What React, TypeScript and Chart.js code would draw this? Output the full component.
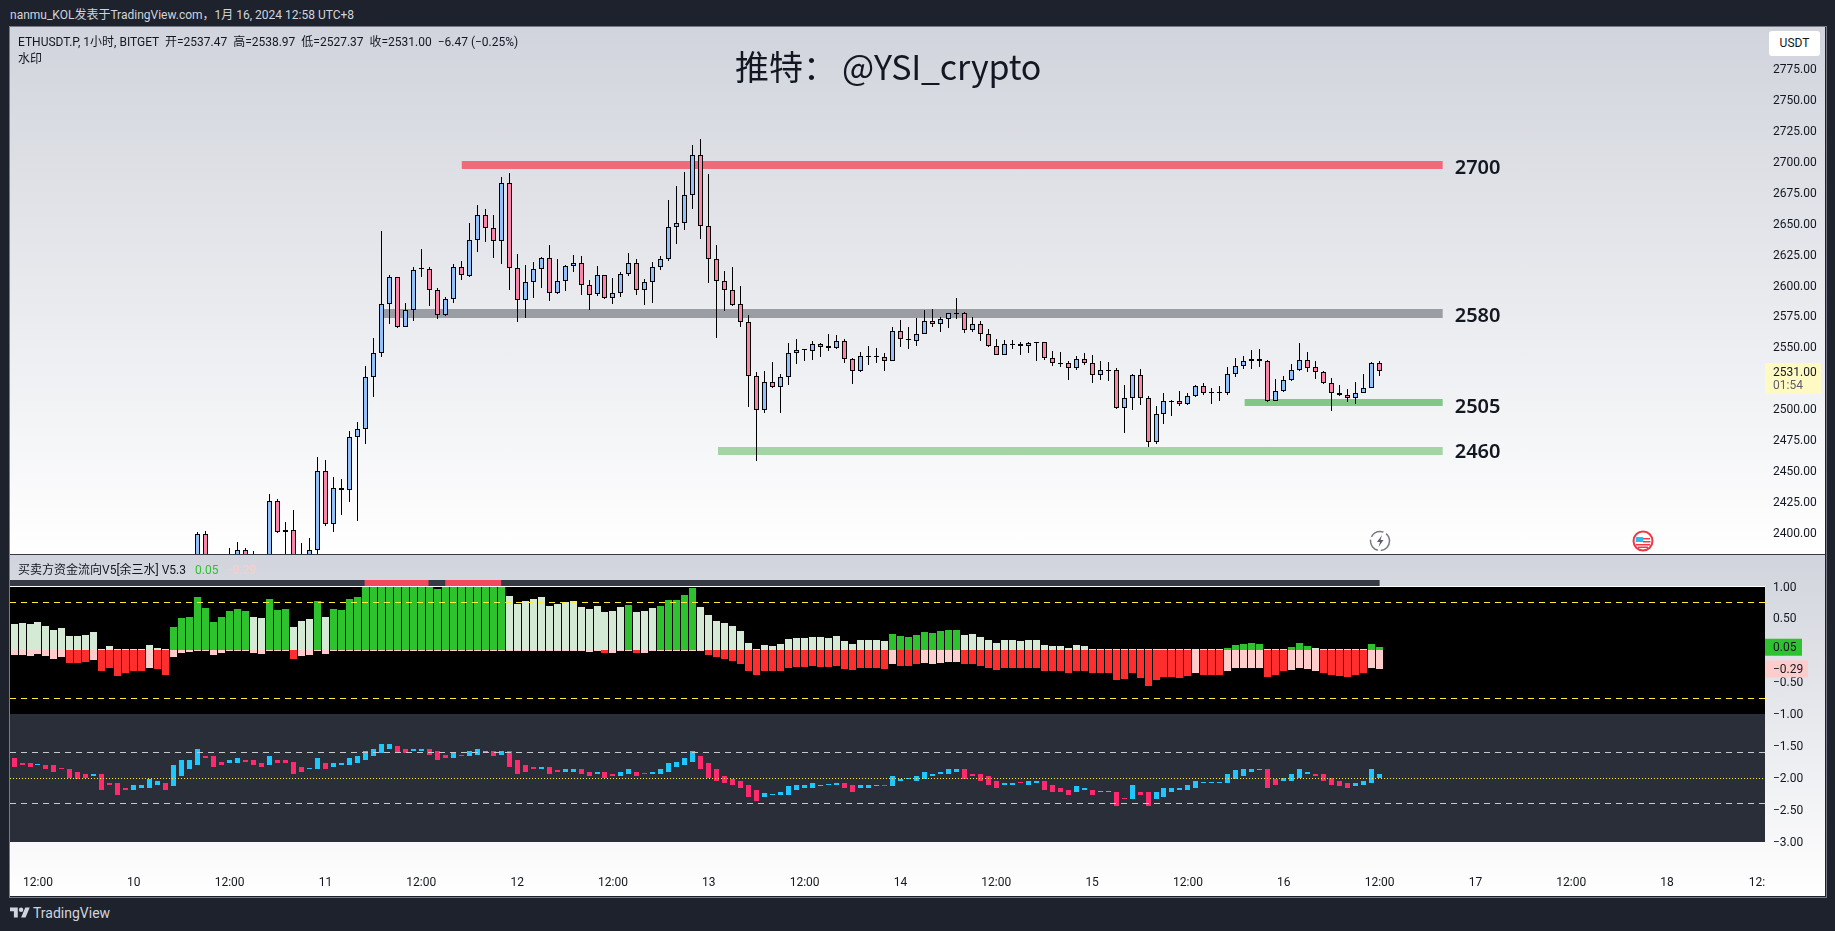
import { useEffect, useRef } from "react";
import { Chart, registerables } from "chart.js";

Chart.register(...registerables);

// Hours since 9 Jan 12:00 (one bar per hour, last bar is 16 Jan 12:00)
const X_MIN = -3.506;
const X_MAX = 216.26;
const LAST_HOUR = 168;

const timeTicks = [0, 12, 24, 36, 48, 60, 72, 84, 96, 108, 120, 132, 144, 156, 168, 180, 192, 204, 215.25];
const timeLabels = ["12:00", "10", "12:00", "11", "12:00", "12", "12:00", "13", "12:00", "14", "12:00", "15", "12:00", "16", "12:00", "17", "12:00", "18", "12:"];

const priceTicks = [2400, 2425, 2450, 2475, 2500, 2525, 2550, 2575, 2600, 2625, 2650, 2675, 2700, 2725, 2750, 2775];
const flowTicks = [1, 0.5, -0.5, -1, -1.5, -2, -2.5, -3];

// Candles start at hour 20, everything earlier is under the visible price range
const CANDLE_START = 20;
const candleOpen = [
  2375, 2399.2, 2378, 2372, 2375, 2379, 2386.3, 2378, 2376, 2380, 2425.8, 2400.8, 2402.4, 2380, 2378, 2386.3,
  2450, 2407.3, 2436.3, 2434.7, 2477.5, 2483.9, 2526.4, 2545.8, 2584.8, 2606.6, 2566.8, 2580, 2613, 2613.1,
  2596.1, 2576.5, 2588.8, 2614.7, 2607.4, 2636.5, 2656.7, 2646.2, 2635.7, 2682.5, 2614, 2588, 2602.6, 2613.1,
  2622, 2593.7, 2603.4, 2615.5, 2618, 2600.2, 2592.8, 2608.2, 2589.6, 2593.7, 2609, 2617.9, 2596.1, 2602.6,
  2614.7, 2621.1, 2647, 2650.2, 2672.8, 2705, 2647.8, 2621.1, 2603.4, 2596.1, 2584.8, 2570.3, 2526.7, 2499.3,
  2521.9, 2517.8, 2525.9, 2545.3, 2547.7, 2547, 2552.5, 2550.9, 2549.3, 2555, 2540.4, 2530.7, 2542.8, 2542.2,
  2542, 2539.3, 2563, 2556.6, 2555.5, 2560.6, 2571.1, 2568.7, 2572.7, 2577.5, 2577.5, 2563.8, 2568.7, 2560.6,
  2550.9, 2543.7, 2552.5, 2552.5, 2550.9, 2554.1, 2554.1, 2541.2, 2537.2, 2537.2, 2533.2, 2540.4, 2537.2, 2527.5,
  2531.5, 2531.5, 2500.9, 2509, 2527.5, 2509, 2473.4, 2496, 2506.5, 2506.5, 2504.1, 2510.6, 2518.6, 2513.8,
  2513.8, 2513, 2528.3, 2534.8, 2538.8, 2540.4, 2538.8, 2507, 2514.6, 2523.5, 2531.5, 2539.6, 2534, 2530,
  2521, 2513, 2511.4, 2509, 2513, 2517, 2537.47,
];
const candleClose = [
  2399.2, 2378, 2372, 2375, 2379, 2386.3, 2378, 2376, 2380, 2425.8, 2400.8, 2402.4, 2380, 2378, 2386.3, 2450,
  2407.3, 2436.3, 2434.7, 2477.5, 2483.9, 2526.4, 2545.8, 2584.8, 2606.6, 2566.8, 2580, 2612.3, 2613.3, 2596.1,
  2576.5, 2588.8, 2614.7, 2608.2, 2636.5, 2656.7, 2646.2, 2635.7, 2682.5, 2614, 2588, 2602.6, 2613.1, 2622,
  2593.7, 2603.4, 2615.5, 2618, 2600.2, 2592.7, 2608.2, 2589.6, 2593.7, 2609, 2617.9, 2596.1, 2602.6, 2614.7,
  2621.1, 2647, 2650.2, 2672.8, 2705, 2647.8, 2621.1, 2603.4, 2596.1, 2584.5, 2570.3, 2526.7, 2499.3, 2521.9,
  2517.8, 2525.9, 2545.3, 2547.7, 2548, 2552.5, 2550.6, 2549.3, 2555, 2540.4, 2530.7, 2542.8, 2542.5, 2542,
  2539.3, 2563, 2556.6, 2556.4, 2560.6, 2571.1, 2568.7, 2572.7, 2577.5, 2577.3, 2563.8, 2568.7, 2560.6, 2550.9,
  2543.7, 2552.5, 2552.3, 2550.9, 2553.3, 2553.9, 2541.2, 2537.2, 2537, 2533.2, 2540.4, 2537.2, 2527.5, 2531.5,
  2531.3, 2500.9, 2509, 2527.5, 2509, 2473.4, 2496, 2506.5, 2506.3, 2504.1, 2510.6, 2518.6, 2513, 2513.6,
  2513.6, 2528.3, 2534.8, 2539, 2540.4, 2538.8, 2507, 2514.6, 2523.5, 2531.5, 2539.6, 2533.7, 2530, 2521,
  2513, 2511.4, 2509, 2513, 2517, 2537.2, 2531,
];
const candleHigh = [
  2401.1, 2401.9, 2382, 2381, 2387.9, 2393, 2387.9, 2385.7, 2383, 2431.7, 2427.4, 2409.1, 2418.8, 2392.2, 2396.2, 2461.6,
  2459.2, 2445.4, 2443.8, 2482.3, 2489.6, 2534.8, 2557.4, 2644.3, 2608.2, 2606.6, 2585.9, 2614.7, 2629.5, 2614.7,
  2597.7, 2590.4, 2617.1, 2619.6, 2650.5, 2665, 2661.8, 2656.9, 2687.6, 2690.8, 2625.5, 2616.6, 2619, 2623.1,
  2632.7, 2621.2, 2616.3, 2624.7, 2623.6, 2604.5, 2615.8, 2608.5, 2605.8, 2610.6, 2626.2, 2621.1, 2605, 2618.7,
  2623.8, 2669, 2680.3, 2691.6, 2713.4, 2718.2, 2690, 2632.4, 2611.7, 2615, 2599.6, 2576, 2530, 2530.7,
  2538, 2528.3, 2553.3, 2556.6, 2548.8, 2555, 2553.3, 2560.9, 2559.8, 2556.6, 2541.2, 2546.1, 2551.2, 2549.3,
  2545.3, 2566.5, 2571.9, 2566.5, 2573.8, 2580, 2581, 2574.3, 2577.5, 2589.9, 2578.4, 2574.3, 2571.1, 2564.6,
  2556.6, 2555.8, 2555.8, 2554.1, 2554.1, 2554.1, 2554.1, 2546.9, 2546.1, 2538.8, 2542.8, 2545.3, 2543.9, 2538.8,
  2538, 2533.2, 2519.4, 2528.3, 2532.6, 2510.8, 2502.8, 2513.3, 2507.3, 2514.6, 2513, 2519.4, 2521, 2517,
  2518.6, 2534, 2541.2, 2543.1, 2548, 2548.5, 2539.6, 2524.5, 2527, 2536.4, 2553.6, 2546.1, 2538.8, 2531,
  2525, 2519.4, 2516.2, 2521.9, 2528.6, 2538, 2538.97,
];
const candleLow = [
  2370, 2370, 2368, 2365, 2370, 2375, 2373, 2370, 2372, 2378, 2400.5, 2383, 2375, 2372, 2376, 2383,
  2406.2, 2401.3, 2415, 2425.5, 2410.2, 2472.4, 2510.3, 2542.6, 2568.9, 2565.4, 2566.2, 2571.6, 2607, 2583.7,
  2573.2, 2575.6, 2586.1, 2604.5, 2606.6, 2627.4, 2635.4, 2622.5, 2617.1, 2596.4, 2570.8, 2574, 2590.2, 2598.2,
  2587.8, 2592.9, 2595.8, 2610.7, 2592.4, 2580.5, 2591.2, 2588.8, 2585.3, 2591, 2608, 2592.6, 2584.3, 2586.2,
  2612.2, 2619.5, 2633.8, 2644.8, 2662, 2637.8, 2602.3, 2557.9, 2579.7, 2583.7, 2566.8, 2502.2, 2458.6, 2497.4,
  2517, 2497.4, 2519.7, 2536.7, 2538.8, 2539.9, 2542.3, 2547, 2548.8, 2537.7, 2520.5, 2530, 2535.9, 2537.7,
  2531, 2539.3, 2550.4, 2548.8, 2551.5, 2560.6, 2566.8, 2562.8, 2565.4, 2573, 2561.4, 2562.8, 2555.5, 2550.4,
  2543.7, 2543.7, 2548.5, 2544, 2545.8, 2539.3, 2539.6, 2534.8, 2534.2, 2523.7, 2531.5, 2535.6, 2521.6, 2523.5,
  2522.7, 2500.1, 2480.7, 2499.3, 2503.3, 2470, 2471.8, 2488.5, 2495, 2503, 2503.3, 2510.3, 2511.4, 2504.6,
  2507, 2511.4, 2525.9, 2532.3, 2532.9, 2534.2, 2505.7, 2507, 2514.3, 2523.2, 2531.3, 2530.2, 2524.3, 2520.8,
  2499, 2510.8, 2506.3, 2504.4, 2513, 2517, 2527.37,
];

// Support / resistance bands
const bandPrices = [2697.2, 2577.5, 2505.6, 2466.5];
const bandLabels = ["2700", "2580", "2505", "2460"];
const bandLabelPrices = [2696.5, 2577, 2503.7, 2467.2];
const bandStartHours = [53.07, 43.3, 151.1, 85.15];
const BAND_END_HOUR = 175.9;
const bandColors = ["#ef6a7a", "#9b9da5", "#82c785", "#a3d4a3"];
const bandThickness = [8, 9, 7, 8];

const LAST_PRICE = 2531;
const LAST_PRICE_LABEL = "2531.00";
const COUNTDOWN_LABEL = "01:54";

// Indicator: histogram starts at hour -3
const FLOW_START = -3;
const buyFlow = [
  0.42, 0.43, 0.42, 0.45, 0.39, 0.32, 0.35, 0.23, 0.23, 0.24, 0.29, 0, 0.07, 0, 0, 0, 0, 0.09, 0.04, 0,
  0.37, 0.51, 0.53, 0.84, 0.67, 0.45, 0.53, 0.62, 0.65, 0.62, 0.53, 0.51, 0.81, 0.64, 0.65, 0.37, 0.46, 0.49, 0.78, 0.53,
  0.65, 0.64, 0.81, 0.84, 1, 1, 1, 1, 1, 1, 1, 1, 1, 0.96, 1, 1, 1, 1, 1, 1,
  1, 1, 0.85, 0.73, 0.78, 0.81, 0.84, 0.7, 0.73, 0.76, 0.78, 0.68, 0.65, 0.7, 0.6, 0.62, 0.68, 0.71, 0.6, 0.62,
  0.67, 0.7, 0.79, 0.79, 0.87, 0.98, 0.68, 0.56, 0.46, 0.43, 0.39, 0.31, 0.12, 0, 0.09, 0.07, 0.1, 0.18, 0.2, 0.2,
  0.21, 0.21, 0.2, 0.23, 0.15, 0.1, 0.17, 0.17, 0.17, 0.15, 0.26, 0.23, 0.21, 0.24, 0.29, 0.28, 0.31, 0.32, 0.32, 0.24,
  0.26, 0.21, 0.17, 0.12, 0.17, 0.17, 0.15, 0.17, 0.17, 0.09, 0.07, 0.07, 0.04, 0.09, 0.07, 0, 0.03, 0.03, 0, 0,
  0, 0, 0, 0, 0, 0, 0, 0, 0, 0, 0, 0, 0.04, 0.09, 0.1, 0.12, 0.1, 0, 0, 0,
  0.06, 0.12, 0.07, 0.04, 0, 0, 0, 0, 0, 0, 0.1, 0.05,
];
const buyStrong = [
  0, 0, 0, 0, 0, 0, 0, 0, 0, 0, 0, 0, 0, 0, 0, 0, 0, 0, 0, 0,
  1, 1, 1, 1, 1, 1, 1, 1, 1, 1, 0, 0, 1, 1, 1, 0, 0, 0, 1, 0,
  1, 1, 1, 1, 1, 1, 1, 1, 1, 1, 1, 1, 1, 1, 1, 1, 1, 1, 1, 1,
  1, 1, 0, 0, 0, 0, 0, 0, 0, 0, 0, 0, 0, 0, 0, 0, 0, 1, 0, 0,
  0, 1, 1, 1, 1, 1, 0, 0, 0, 0, 0, 0, 0, 0, 0, 0, 0, 0, 0, 0,
  0, 0, 0, 0, 0, 0, 0, 0, 0, 0, 1, 1, 1, 1, 1, 1, 1, 1, 1, 0,
  0, 0, 0, 0, 0, 0, 0, 0, 0, 0, 0, 0, 0, 0, 0, 0, 0, 0, 0, 0,
  0, 0, 0, 0, 0, 0, 0, 0, 0, 0, 0, 0, 1, 1, 1, 1, 1, 0, 0, 0,
  1, 1, 1, 0, 0, 0, 0, 0, 0, 0, 1, 1,
];
const sellFlow = [
  -0.07, -0.07, -0.08, -0.05, -0.08, -0.13, -0.11, -0.19, -0.19, -0.18, -0.15, -0.33, -0.27, -0.40, -0.35, -0.32, -0.32, -0.27, -0.29, -0.38,
  -0.11, -0.04, -0.02, -0.01, -0.01, -0.07, -0.04, -0.01, -0.01, -0.01, -0.04, -0.05, -0.01, -0.01, -0.01, -0.13, -0.08, -0.07, -0.01, -0.05,
  -0.01, -0.01, -0.01, -0.01, -0.01, -0.01, -0.01, -0.01, -0.01, -0.01, -0.01, -0.01, -0.01, -0.01, -0.01, -0.01, -0.01, -0.01, -0.01, -0.01,
  -0.01, -0.01, -0.01, -0.01, -0.01, -0.01, -0.01, -0.01, -0.01, -0.01, -0.01, -0.01, -0.02, -0.01, -0.04, -0.04, -0.01, -0.01, -0.04, -0.04,
  -0.01, -0.01, -0.01, -0.01, -0.01, -0.01, -0.01, -0.07, -0.11, -0.13, -0.16, -0.21, -0.32, -0.38, -0.32, -0.33, -0.32, -0.27, -0.26, -0.26,
  -0.24, -0.26, -0.26, -0.24, -0.29, -0.30, -0.27, -0.27, -0.27, -0.29, -0.22, -0.24, -0.24, -0.22, -0.19, -0.21, -0.19, -0.18, -0.18, -0.22,
  -0.21, -0.24, -0.27, -0.30, -0.27, -0.27, -0.27, -0.27, -0.27, -0.32, -0.33, -0.33, -0.35, -0.32, -0.33, -0.36, -0.35, -0.35, -0.47, -0.44,
  -0.35, -0.43, -0.55, -0.46, -0.41, -0.41, -0.43, -0.40, -0.36, -0.38, -0.38, -0.38, -0.32, -0.27, -0.27, -0.27, -0.27, -0.41, -0.38, -0.33,
  -0.30, -0.27, -0.29, -0.32, -0.35, -0.38, -0.40, -0.41, -0.38, -0.36, -0.27, -0.29,
];
const sellStrong = [
  0, 0, 0, 0, 0, 0, 0, 1, 1, 1, 0, 1, 1, 1, 1, 1, 1, 0, 1, 1,
  0, 0, 0, 0, 0, 0, 0, 0, 0, 0, 0, 0, 0, 0, 0, 1, 0, 0, 0, 0,
  0, 0, 0, 0, 0, 0, 0, 0, 0, 0, 0, 0, 0, 0, 0, 0, 0, 0, 0, 0,
  0, 0, 0, 0, 0, 0, 0, 0, 0, 0, 0, 0, 0, 0, 1, 0, 0, 0, 1, 0,
  0, 0, 0, 0, 0, 0, 0, 1, 1, 1, 1, 1, 1, 1, 1, 1, 1, 1, 1, 1,
  1, 1, 1, 1, 1, 1, 1, 1, 1, 1, 0, 1, 1, 1, 0, 0, 0, 0, 0, 1,
  1, 1, 1, 1, 1, 1, 1, 1, 1, 1, 1, 1, 1, 1, 1, 1, 1, 1, 1, 1,
  1, 1, 1, 1, 1, 1, 1, 1, 0, 1, 1, 1, 0, 0, 0, 0, 0, 1, 1, 1,
  0, 0, 0, 0, 1, 1, 1, 1, 1, 1, 0, 0,
];

// Lower candles of the indicator
const flowOpen = [
  -1.69, -1.76, -1.77, -1.80, -1.79, -1.80, -1.85, -1.85, -1.91, -1.94, -1.97, -1.94, -2.07, -2.07, -2.16, -2.18, -2.15, -2.15, -2.10, -2.07,
  -2.13, -1.97, -1.85, -1.79, -1.66, -1.66, -1.74, -1.77, -1.76, -1.72, -1.72, -1.76, -1.80, -1.71, -1.72, -1.74, -1.83, -1.86, -1.86, -1.77,
  -1.82, -1.79, -1.80, -1.76, -1.72, -1.66, -1.61, -1.55, -1.49, -1.55, -1.58, -1.58, -1.55, -1.58, -1.63, -1.68, -1.63, -1.66, -1.63, -1.60,
  -1.58, -1.63, -1.58, -1.71, -1.80, -1.83, -1.86, -1.83, -1.88, -1.90, -1.90, -1.86, -1.90, -1.94, -1.91, -1.94, -1.96, -1.94, -1.90, -1.93,
  -1.94, -1.93, -1.90, -1.83, -1.80, -1.74, -1.66, -1.76, -1.86, -1.96, -2.01, -2.05, -2.10, -2.19, -2.29, -2.27, -2.27, -2.26, -2.19, -2.16,
  -2.15, -2.13, -2.11, -2.11, -2.08, -2.11, -2.16, -2.15, -2.13, -2.11, -2.13, -2.05, -2.02, -2.04, -2.01, -1.96, -1.94, -1.93, -1.90, -1.86,
  -1.93, -1.94, -1.97, -2.04, -2.11, -2.10, -2.07, -2.10, -2.08, -2.05, -2.11, -2.16, -2.18, -2.22, -2.18, -2.18, -2.22, -2.22, -2.21, -2.32,
  -2.33, -2.22, -2.22, -2.33, -2.29, -2.22, -2.19, -2.18, -2.15, -2.08, -2.08, -2.08, -2.08, -2.02, -1.96, -1.91, -1.88, -1.86, -2.01, -2.05,
  -2.04, -1.99, -1.93, -1.93, -1.94, -1.99, -2.05, -2.08, -2.13, -2.11, -2.08, -1.99,
];
const flowClose = [
  -1.82, -1.80, -1.82, -1.79, -1.85, -1.91, -1.86, -1.99, -2.01, -1.99, -1.93, -2.19, -2.10, -2.26, -2.18, -2.11, -2.11, -2.02, -2.05, -2.19,
  -1.80, -1.71, -1.71, -1.55, -1.68, -1.82, -1.79, -1.72, -1.69, -1.74, -1.80, -1.83, -1.65, -1.76, -1.77, -1.94, -1.90, -1.85, -1.69, -1.85,
  -1.77, -1.77, -1.69, -1.66, -1.58, -1.55, -1.47, -1.46, -1.61, -1.61, -1.55, -1.54, -1.63, -1.71, -1.69, -1.61, -1.65, -1.58, -1.55, -1.58,
  -1.66, -1.57, -1.83, -1.93, -1.90, -1.85, -1.82, -1.93, -1.91, -1.86, -1.85, -1.94, -1.97, -1.90, -1.99, -1.97, -1.90, -1.86, -1.97, -1.94,
  -1.90, -1.86, -1.76, -1.74, -1.68, -1.58, -1.86, -1.99, -2.05, -2.08, -2.11, -2.16, -2.30, -2.36, -2.24, -2.26, -2.22, -2.13, -2.11, -2.11,
  -2.08, -2.10, -2.10, -2.07, -2.16, -2.21, -2.11, -2.11, -2.11, -2.13, -1.96, -2.01, -2.01, -1.97, -1.90, -1.93, -1.90, -1.86, -1.85, -2.01,
  -1.96, -2.04, -2.11, -2.16, -2.07, -2.07, -2.08, -2.05, -2.05, -2.18, -2.22, -2.22, -2.26, -2.13, -2.16, -2.27, -2.21, -2.21, -2.44, -2.33,
  -2.11, -2.26, -2.43, -2.22, -2.15, -2.15, -2.16, -2.10, -2.04, -2.07, -2.07, -2.07, -1.94, -1.88, -1.86, -1.85, -1.86, -2.15, -2.10, -1.99,
  -1.93, -1.86, -1.91, -1.97, -2.05, -2.11, -2.13, -2.16, -2.08, -2.05, -1.86, -1.93,
];

// Guide lines of the indicator
const outerGuides = [0.75, -0.75];
const innerGuides = [-1.6, -2.4];
const MID_GUIDE = -2;

// The strip over the indicator, red where the histogram is pinned at the top
const STRIP_LEVEL = 1.06;
const stripRedStarts = [40.9, 51];
const stripRedEnds = [48.9, 58];

const BUY_VALUE = 0.05;
const SELL_VALUE = -0.29;

const TICK_FONT = { family: "Roboto, 'Noto Sans CJK SC'", size: 12 };
const TICK_FONT_CSS = "12px Roboto, 'Noto Sans CJK SC'";
const TEXT_COLOR = "#131722";

const hoursFrom = (start: number, length: number) => Array.from({ length }, (_, i) => start + i);
const minus = (value: number) => value.toFixed(2).replace("-", "\u2212");

// Puts bars and lines on whole pixels, otherwise the 1px marks turn grey
const snapMarks = {
  id: "snapMarks",
  afterDatasetsUpdate(chart: any) {
    chart.getSortedVisibleDatasetMetas().forEach((meta: any) => {
      if (meta.type === "bar") {
        meta.data.forEach((bar: any) => {
          bar.x = Math.floor(bar.x) + 0.5;
          bar.y = Math.round(bar.y);
          bar.base = Math.round(bar.base);
          if (bar.base === bar.y) bar.y -= 1;
        });
      } else {
        const odd = meta.dataset.options.borderWidth % 2 === 1;
        meta.data.forEach((point: any) => {
          point.y = odd ? Math.floor(point.y) + 0.5 : Math.round(point.y);
        });
      }
    });
  },
};

const xAxis = (showLabels: boolean) => ({
  type: "linear",
  min: X_MIN,
  max: X_MAX,
  offset: false,
  display: showLabels,
  grid: { display: false, drawTicks: false },
  border: { display: false },
  afterBuildTicks: (axis: any) => {
    axis.ticks = timeTicks.map((value) => ({ value }));
  },
  afterFit: (axis: any) => {
    axis.height = showLabels ? 54 : 0;
    axis.paddingLeft = 0;
    axis.paddingRight = 0;
  },
  ticks: {
    autoSkip: false,
    maxRotation: 0,
    padding: 34,
    color: TEXT_COLOR,
    font: TICK_FONT,
    callback: (_: any, index: number) => timeLabels[index],
  },
});

const yAxis = (min: number, max: number, values: number[]) => ({
  position: "right",
  min,
  max,
  grid: { display: false, drawTicks: false },
  border: { display: false },
  afterBuildTicks: (axis: any) => {
    axis.ticks = values.map((value) => ({ value }));
  },
  afterFit: (axis: any) => {
    axis.width = 60;
    axis.paddingTop = 0;
    axis.paddingBottom = 0;
  },
  ticks: {
    autoSkip: false,
    crossAlign: "near",
    padding: 8,
    labelOffset: 1,
    color: TEXT_COLOR,
    font: TICK_FONT,
    callback: (value: number) => minus(value),
  },
});

// Price candles with the four hand drawn bands
const PriceChart = () => {
  const chartRef = useRef<HTMLCanvasElement>(null);

  useEffect(() => {
    if (!chartRef.current) return;
    const hours = hoursFrom(CANDLE_START, candleOpen.length);

    const priceLabels = {
      id: "priceLabels",
      afterDraw(chart: any) {
        const { ctx, scales } = chart;
        ctx.save();
        // band captions
        ctx.font = "600 20px 'Noto Sans'";
        ctx.fillStyle = "#131722";
        ctx.textBaseline = "middle";
        bandLabels.forEach((label, i) => {
          ctx.fillText(label, scales.x.getPixelForValue(BAND_END_HOUR) + 12, scales.y.getPixelForValue(bandLabelPrices[i]) + 2);
        });
        // last price chip
        const y = scales.y.getPixelForValue(LAST_PRICE);
        ctx.fillStyle = "#fff9c4";
        ctx.fillRect(chart.chartArea.right, y - 8, 56, 31);
        ctx.font = TICK_FONT_CSS;
        ctx.fillStyle = TEXT_COLOR;
        ctx.fillText(LAST_PRICE_LABEL, chart.chartArea.right + 8, y + 2);
        ctx.fillStyle = "#5d606b";
        ctx.fillText(COUNTDOWN_LABEL, chart.chartArea.right + 8, y + 15);
        ctx.restore();
      },
    };

    const chart = new Chart(chartRef.current, {
      type: "bar",
      data: {
        datasets: [
          ...bandPrices.map((price, i) => ({
            type: "line",
            data: [{ x: bandStartHours[i], y: price }, { x: BAND_END_HOUR, y: price }],
            borderColor: bandColors[i],
            borderWidth: bandThickness[i],
            borderCapStyle: "butt",
            pointRadius: 0,
            order: 3,
          })),
          {
            data: hours.map((x, i) => ({ x, y: [candleLow[i], candleHigh[i]] })),
            backgroundColor: "#000000",
            barThickness: 1,
            grouped: false,
            inflateAmount: 0,
            order: 2,
          },
          {
            data: hours.map((x, i) => ({ x, y: [candleOpen[i], candleClose[i]] })),
            backgroundColor: hours.map((_, i) => (candleClose[i] >= candleOpen[i] ? "#93c1fb" : "#f985a8")),
            borderColor: "#000000",
            borderWidth: 1,
            borderSkipped: false,
            barThickness: 5,
            grouped: false,
            inflateAmount: 0,
            order: 1,
          },
        ],
      } as any,
      options: {
        animation: false,
        responsive: false,
        devicePixelRatio: 1,
        events: [],
        layout: { autoPadding: false, padding: 0 },
        plugins: { legend: { display: false }, tooltip: { enabled: false } },
        scales: {
          x: xAxis(false),
          y: yAxis(2383.3, 2808.66, priceTicks),
        },
      } as any,
      plugins: [snapMarks, priceLabels],
    });

    return () => chart.destroy();
  }, []);

  return <canvas ref={chartRef} width={1815} height={527} style={{ display: "block" }} />;
};

// Money flow indicator: histogram on black, candles on dark, shared axis
const FlowChart = () => {
  const chartRef = useRef<HTMLCanvasElement>(null);

  useEffect(() => {
    if (!chartRef.current) return;
    const hours = hoursFrom(FLOW_START, buyFlow.length);
    const span = (value: number, start = X_MIN, end = X_MAX) => [{ x: start, y: value }, { x: end, y: value }];
    const guide = (data: any, color: string, dash: number[]) => ({
      type: "line",
      data,
      borderColor: color,
      borderWidth: 1,
      borderDash: dash,
      pointRadius: 0,
      order: 0,
    });

    const panes = {
      id: "panes",
      beforeDatasetsDraw(chart: any) {
        const { ctx, chartArea, scales } = chart;
        const top = Math.round(scales.y.getPixelForValue(1));
        const middle = Math.round(scales.y.getPixelForValue(-1));
        const bottom = Math.round(scales.y.getPixelForValue(-3));
        ctx.save();
        ctx.fillStyle = "#ffffff";
        ctx.fillRect(chartArea.left, top - 1, chartArea.width, 1);
        ctx.fillStyle = "#000000";
        ctx.fillRect(chartArea.left, top, chartArea.width, middle - top);
        ctx.fillStyle = "#2a2e39";
        ctx.fillRect(chartArea.left, middle, chartArea.width, bottom - middle);
        ctx.restore();
      },
      afterDraw(chart: any) {
        const { ctx, chartArea, scales } = chart;
        const chip = (value: number, color: string, width: number, label: string) => {
          const y = scales.y.getPixelForValue(value);
          ctx.fillStyle = color;
          ctx.fillRect(chartArea.right, y - 8.5, width, 17);
          ctx.fillStyle = TEXT_COLOR;
          ctx.fillText(label, chartArea.right + 8, y + 1);
        };
        ctx.save();
        ctx.font = TICK_FONT_CSS;
        ctx.textBaseline = "middle";
        chip(BUY_VALUE, "#2ec22e", 37, minus(BUY_VALUE));
        chip(SELL_VALUE, "#ffcccc", 43, minus(SELL_VALUE));
        ctx.restore();
      },
    };

    const chart = new Chart(chartRef.current, {
      type: "bar",
      data: {
        datasets: [
          ...outerGuides.map((value) => guide(span(value), "#ffeb3b", [6, 5])),
          ...innerGuides.map((value) => guide(span(value), "#c8c9cc", [6, 5])),
          guide(span(MID_GUIDE), "#ffeb3b", [1, 2]),
          {
            type: "line",
            data: span(STRIP_LEVEL, X_MIN, LAST_HOUR),
            borderColor: "#363a45",
            borderWidth: 6,
            borderCapStyle: "butt",
            pointRadius: 0,
            order: 4,
          },
          ...stripRedStarts.map((start, i) => ({
            type: "line",
            data: span(STRIP_LEVEL, start, stripRedEnds[i]),
            borderColor: "#f2495e",
            borderWidth: 6,
            borderCapStyle: "butt",
            pointRadius: 0,
            order: 3,
          })),
          {
            data: hours.map((x, i) => ({ x, y: buyFlow[i] })),
            backgroundColor: hours.map((_, i) => (buyStrong[i] ? "#2ec22e" : "#d4ead4")),
            barThickness: 7,
            grouped: false,
            inflateAmount: 0,
            order: 2,
          },
          {
            data: hours.map((x, i) => ({ x, y: sellFlow[i] })),
            backgroundColor: hours.map((_, i) => (sellStrong[i] ? "#ff2e2e" : "#ffcccc")),
            barThickness: 7,
            grouped: false,
            inflateAmount: 0,
            order: 2,
          },
          {
            data: hours.map((x, i) => ({ x, y: [flowOpen[i], flowClose[i]] })),
            backgroundColor: hours.map((_, i) => (flowClose[i] >= flowOpen[i] ? "#1ec8ff" : "#ff2a6d")),
            barThickness: 5,
            grouped: false,
            inflateAmount: 0,
            order: 1,
          },
        ],
      } as any,
      options: {
        animation: false,
        responsive: false,
        devicePixelRatio: 1,
        events: [],
        layout: { autoPadding: false, padding: 0 },
        plugins: { legend: { display: false }, tooltip: { enabled: false } },
        scales: {
          x: xAxis(true),
          y: yAxis(-3, 1.51, flowTicks),
        },
      } as any,
      plugins: [snapMarks, panes],
    });

    return () => chart.destroy();
  }, []);

  return <canvas ref={chartRef} width={1815} height={342} style={{ display: "block" }} />;
};

const text = (left: number, top: number, extra = {}) => ({
  position: "absolute" as const,
  left,
  top,
  lineHeight: "16px",
  whiteSpace: "pre" as const,
  ...extra,
});

export default function App() {
  const paneGradient = "linear-gradient(#d1d4dc, #ffffff)";
  return (
    <div
      style={{
        position: "absolute",
        left: 0,
        top: 0,
        width: 1835,
        height: 931,
        overflow: "hidden",
        background: "#1e222d",
        fontFamily: "Roboto, 'Noto Sans CJK SC'",
        fontSize: 12,
        color: TEXT_COLOR,
      }}
    >
      <div style={text(10, 7, { color: "#d1d4dc", fontSize: 12 })}>nanmu_KOL发表于TradingView.com，1月 16, 2024 12:58 UTC+8</div>

      <div style={{ position: "absolute", left: 9, top: 26, width: 1816, height: 870, border: "1px solid #787b86" }} />
      <div style={{ position: "absolute", left: 10, top: 27, width: 1815, height: 527, background: paneGradient }}>
        <PriceChart />
      </div>
      <div style={{ position: "absolute", left: 10, top: 554, width: 1815, height: 342, background: paneGradient }}>
        <FlowChart />
      </div>
      <div style={{ position: "absolute", left: 10, top: 554, width: 1815, height: 1, background: "#363a45" }} />

      <div style={text(18, 34)}>{"ETHUSDT.P, 1小时, BITGET  开=2537.47  高=2538.97  低=2527.37  收=2531.00  \u22126.47 (\u22120.25%)"}</div>
      <div style={text(18, 51)}>水印</div>
      <div style={text(735, 44, { fontSize: 34, lineHeight: "44px", fontFamily: "'Noto Sans CJK SC'" })}>
        推特：<span style={{ marginLeft: 5, letterSpacing: -0.2 }}>@YSI_crypto</span>
      </div>
      <div style={text(18, 562)}>买卖方资金流向V5[余三水] V5.3</div>
      <div style={text(195, 562, { color: "#2ec22e" })}>0.05</div>
      <div style={text(226, 562, { color: "#ffcccc" })}>{"\u22120.29"}</div>

      <div
        style={text(1769, 31, {
          width: 51,
          height: 25,
          lineHeight: "25px",
          textAlign: "center",
          background: "#ffffff",
          borderRadius: 3,
          fontSize: 12,
        })}
      >
        USDT
      </div>

      {/* session break and US event markers */}
      <svg style={{ position: "absolute", left: 1369, top: 530 }} width="22" height="22" viewBox="0 0 22 22">
        <circle cx="11" cy="11" r="9.5" fill="#ffffff" stroke="#787b86" strokeWidth="1.5" strokeDasharray="14 3" />
        <path d="M13 5 L8 12 H11 L9.5 17 L14.5 10 H11.5 Z" fill="#5d606b" />
      </svg>
      <svg style={{ position: "absolute", left: 1632, top: 530 }} width="22" height="22" viewBox="0 0 22 22">
        <circle cx="11" cy="11" r="9.5" fill="#ffffff" stroke="#f23645" strokeWidth="2" />
        <path d="M4 7 H11 V12 H3.5 Z" fill="#2ebcf0" />
        <path d="M11 8 H18 V9.5 H11 Z M11 11 H18.5 V12.5 H11 Z M4 14 H18 V15.5 H4 Z M6 16.5 H16 V18 H6 Z" fill="#f23645" />
      </svg>

      <svg style={{ position: "absolute", left: 10, top: 905 }} width="20" height="16" viewBox="0 0 36 28">
        <path d="M14 22H7V11H0V4h14v18zM28 22h-8l7.5-18h8L28 22z" fill="#d1d4dc" />
        <circle cx="20" cy="8" r="4" fill="#d1d4dc" />
      </svg>
      <div style={text(33, 905, { color: "#d1d4dc", fontSize: 14 })}>TradingView</div>
    </div>
  );
}
